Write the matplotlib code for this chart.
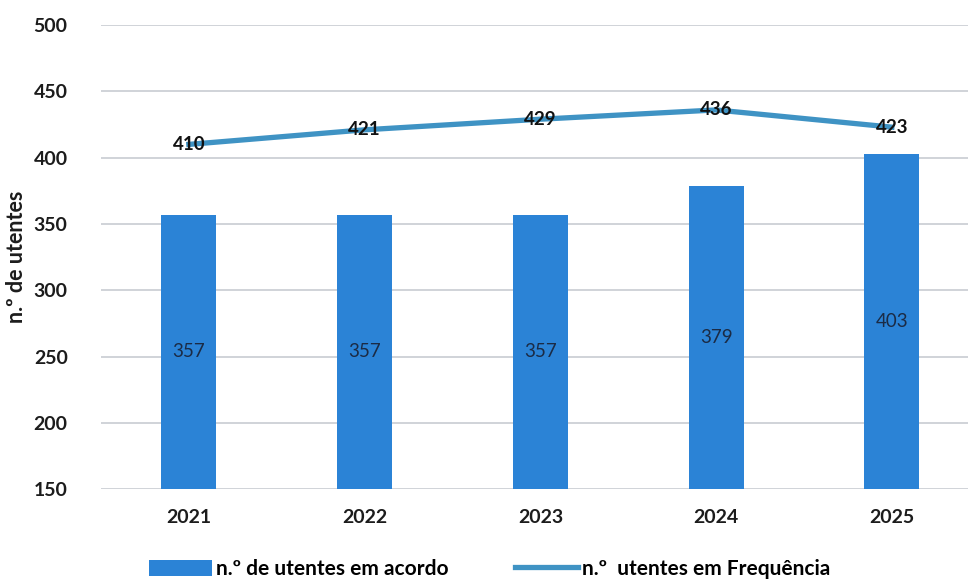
import matplotlib
matplotlib.use("Agg")
import matplotlib.pyplot as plt
from matplotlib.patches import Patch
from matplotlib.lines import Line2D

plt.rcParams['font.family'] = ['Lato', 'DejaVu Sans']

years = ["2021", "2022", "2023", "2024", "2025"]
acordo = [357, 357, 357, 379, 403]
frequencia = [410, 421, 429, 436, 423]
yticks = [150, 200, 250, 300, 350, 400, 450, 500]

bar_color = "#2b83d6"
line_color = "#3f93c4"
text_color = "#1c1c1c"

fig = plt.figure(figsize=(9.68, 5.83), dpi=100)
ax = fig.add_axes([0.1043, 0.161, 0.9078, 0.796])

x = list(range(len(years)))
ax.bar(x, [v - 150 for v in acordo], bottom=150, width=0.313, color=bar_color, zorder=2)
ax.plot(x, frequencia, color=line_color, linewidth=3.8, zorder=3)

for xi, v in zip(x, acordo):
    ax.text(xi, (150 + v) / 2, str(v), ha="center", va="center", fontsize=13.5,
            color="#1b2b45", zorder=4)
for xi, v in zip(x, frequencia):
    ax.text(xi, v, str(v), ha="center", va="center", fontsize=13.5,
            fontweight="bold", color="#111111", zorder=4)

ax.set_ylim(150, 500)
ax.set_xlim(-0.5, len(years) - 0.5)
ax.set_yticks(yticks)
ax.set_xticks(x)
ax.set_xticklabels(years)
ax.tick_params(axis="both", length=0, labelsize=14, colors=text_color)
ax.tick_params(axis="y", pad=24)
ax.tick_params(axis="x", pad=14)
for lbl in ax.get_xticklabels() + ax.get_yticklabels():
    lbl.set_fontweight("bold")
ax.yaxis.grid(True, color="#c8ccd2", linewidth=1.2, zorder=0)
ax.set_axisbelow(True)
for s in ax.spines.values():
    s.set_visible(False)
ax.set_ylabel("n.º de utentes", fontsize=15.5, fontweight="bold", color=text_color, labelpad=5)

handles = [
    Patch(facecolor=bar_color, edgecolor="none"),
    Line2D([0], [0], color=line_color, linewidth=3.8),
]
labels = ["n.º de utentes em acordo", "n.º  utentes em Frequência"]
fig.legend(handles, labels, loc="lower center", bbox_to_anchor=(0.506, -0.025), ncol=2,
           frameon=False, handlelength=3.0, handleheight=0.8,
           handletextpad=0.2, columnspacing=3.2,
           prop={"family": ["Lato", "DejaVu Sans"], "weight": "bold", "size": 15})

fig.savefig("out.png", dpi=100)
